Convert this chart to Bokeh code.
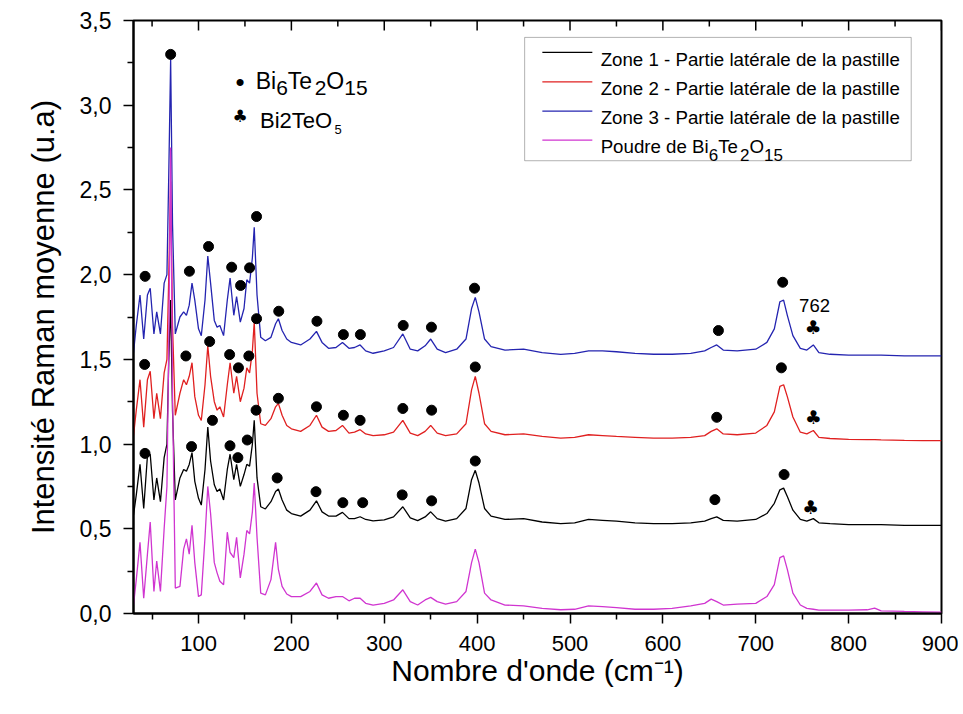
from bokeh.plotting import figure
from bokeh.models import (Range1d, LinearAxis, FixedTicker, CustomJSTickFormatter,
                          Label, BoxAnnotation, Arrow)
from bokeh.core.properties import value
from bokeh.embed import file_html
from bokeh.resources import INLINE

# ---------------- data ----------------
wavenumber = [30, 33, 37, 41, 45, 48, 52, 55, 59, 63,
              66, 68, 70, 72, 75, 80, 84, 87, 90, 93,
              96, 100, 103, 107, 110, 113, 117, 120, 123, 127,
              131, 134, 138, 141, 145, 149, 152, 155, 158, 160,
              163, 167, 172, 178, 183, 186, 190, 195, 200, 210,
              220, 227, 233, 240, 248, 255, 262, 268, 274, 280,
              288, 300, 310, 320, 328, 336, 344, 350, 357, 366,
              378, 388, 394, 398, 402, 408, 415, 430, 450, 470,
              490, 505, 520, 535, 550, 570, 590, 610, 630, 645,
              652, 658, 665, 680, 700, 712, 720, 726, 730, 734,
              740, 748, 755, 762, 768, 780, 800, 820, 828, 835,
              860, 880, 900]

zone1 = [0.58, 0.70, 0.88, 0.62, 0.93, 0.94, 0.67, 0.80, 0.66, 0.92,
         1.00, 1.50, 1.85, 1.20, 0.67, 0.80, 0.85, 0.84, 0.88, 0.95,
         0.78, 0.68, 0.64, 0.85, 1.10, 0.90, 0.76, 0.72, 0.735, 0.67,
         0.85, 0.94, 0.79, 0.88, 0.75, 0.82, 0.88, 0.87, 1.00, 1.14,
         0.80, 0.63, 0.617, 0.66, 0.72, 0.735, 0.67, 0.61, 0.59, 0.575,
         0.61, 0.665, 0.60, 0.575, 0.575, 0.597, 0.56, 0.56, 0.571, 0.555,
         0.547, 0.553, 0.57, 0.63, 0.565, 0.548, 0.57, 0.60, 0.56, 0.545,
         0.56, 0.62, 0.79, 0.845, 0.77, 0.62, 0.575, 0.555, 0.56, 0.54,
         0.53, 0.535, 0.555, 0.55, 0.545, 0.535, 0.53, 0.53, 0.535, 0.545,
         0.56, 0.57, 0.55, 0.545, 0.555, 0.59, 0.65, 0.73, 0.74, 0.69,
         0.61, 0.555, 0.545, 0.56, 0.535, 0.53, 0.525, 0.525, 0.525, 0.524,
         0.52, 0.52, 0.52]

zone2 = [1.05, 1.20, 1.38, 1.10, 1.38, 1.43, 1.15, 1.30, 1.15, 1.42,
         1.50, 2.00, 2.55, 1.70, 1.17, 1.30, 1.38, 1.35, 1.40, 1.48,
         1.28, 1.17, 1.14, 1.35, 1.58, 1.40, 1.25, 1.20, 1.22, 1.16,
         1.35, 1.48, 1.30, 1.40, 1.25, 1.33, 1.45, 1.42, 1.55, 1.72,
         1.30, 1.12, 1.11, 1.15, 1.22, 1.24, 1.17, 1.11, 1.09, 1.075,
         1.11, 1.17, 1.10, 1.075, 1.08, 1.11, 1.065, 1.07, 1.085, 1.06,
         1.05, 1.055, 1.07, 1.14, 1.065, 1.05, 1.075, 1.11, 1.065, 1.05,
         1.06, 1.12, 1.32, 1.40, 1.30, 1.12, 1.075, 1.055, 1.06, 1.045,
         1.035, 1.04, 1.055, 1.05, 1.045, 1.04, 1.035, 1.035, 1.04, 1.05,
         1.075, 1.09, 1.06, 1.055, 1.065, 1.11, 1.19, 1.34, 1.35, 1.28,
         1.16, 1.07, 1.06, 1.08, 1.04, 1.033, 1.028, 1.026, 1.026, 1.025,
         1.022, 1.02, 1.02]

zone3 = [1.54, 1.70, 1.88, 1.62, 1.88, 1.92, 1.65, 1.78, 1.65, 1.95,
         2.00, 2.60, 3.27, 2.30, 1.65, 1.75, 1.78, 1.76, 1.82, 1.95,
         1.85, 1.68, 1.64, 1.85, 2.11, 1.95, 1.73, 1.69, 1.70, 1.64,
         1.85, 1.98, 1.76, 1.87, 1.72, 1.80, 1.97, 1.95, 2.10, 2.28,
         1.88, 1.63, 1.61, 1.63, 1.71, 1.74, 1.67, 1.62, 1.60, 1.585,
         1.62, 1.665, 1.60, 1.565, 1.57, 1.60, 1.565, 1.57, 1.585, 1.55,
         1.536, 1.55, 1.57, 1.65, 1.56, 1.55, 1.58, 1.62, 1.56, 1.54,
         1.56, 1.62, 1.80, 1.866, 1.78, 1.62, 1.575, 1.555, 1.56, 1.54,
         1.53, 1.535, 1.55, 1.55, 1.545, 1.535, 1.53, 1.53, 1.535, 1.55,
         1.57, 1.585, 1.555, 1.55, 1.56, 1.60, 1.68, 1.84, 1.85, 1.76,
         1.64, 1.565, 1.555, 1.585, 1.54, 1.53, 1.525, 1.525, 1.525, 1.525,
         1.52, 1.52, 1.52]

poudre = [0.05, 0.20, 0.42, 0.09, 0.35, 0.54, 0.13, 0.31, 0.13, 0.50,
          0.75, 1.60, 2.75, 1.30, 0.15, 0.16, 0.38, 0.44, 0.35, 0.52,
          0.30, 0.10, 0.11, 0.45, 0.75, 0.59, 0.30, 0.24, 0.19, 0.17,
          0.48, 0.36, 0.33, 0.45, 0.21, 0.35, 0.49, 0.47, 0.60, 0.77,
          0.45, 0.12, 0.11, 0.20, 0.42, 0.26, 0.16, 0.115, 0.10, 0.10,
          0.13, 0.18, 0.11, 0.09, 0.10, 0.10, 0.075, 0.09, 0.09, 0.06,
          0.05, 0.06, 0.08, 0.14, 0.07, 0.05, 0.08, 0.095, 0.07, 0.055,
          0.07, 0.13, 0.30, 0.38, 0.30, 0.12, 0.08, 0.05, 0.045, 0.03,
          0.022, 0.025, 0.045, 0.04, 0.035, 0.025, 0.025, 0.03, 0.045, 0.06,
          0.085, 0.07, 0.05, 0.055, 0.06, 0.10, 0.17, 0.33, 0.34, 0.26,
          0.12, 0.05, 0.03, 0.025, 0.02, 0.02, 0.02, 0.022, 0.032, 0.015,
          0.012, 0.01, 0.008]

# black dots marking Bi6Te2O15 bands
dots_x = [42.5, 70, 90.2, 110.8, 135.7, 145.3, 155, 162.5, 186.4, 227.5, 256, 274.3, 320.4, 350.8, 397.2, 659.8, 729,
          42, 86.4, 112, 133.5, 143, 154.2, 162.5, 186, 227, 256, 274, 320, 351, 398, 658, 727.6,
          42.4, 92.5, 115, 133.9, 142.4, 152.5, 162, 184.7, 226.5, 255.4, 276.8, 319.3, 351, 398, 656, 730.5]
dots_y = [1.99, 3.30, 2.02, 2.166, 2.044, 1.936, 2.04, 2.343, 1.784, 1.725, 1.646, 1.646, 1.70, 1.69, 1.92, 1.67, 1.955,
          1.47, 1.52, 1.605, 1.528, 1.45, 1.52, 1.74, 1.27, 1.22, 1.17, 1.14, 1.21, 1.20, 1.455, 1.158, 1.45,
          0.945, 0.985, 1.14, 0.99, 0.92, 1.024, 1.20, 0.80, 0.719, 0.654, 0.654, 0.70, 0.665, 0.90, 0.672, 0.82]

# clubs marking Bi2TeO5
club_x = [761.6, 762, 759]
club_y = [1.69, 1.162, 0.626]

x_ticks = [100, 200, 300, 400, 500, 600, 700, 800, 900]
x_minor = [50, 150, 250, 350, 450, 550, 650, 750, 850]
y_ticks = [0.0, 0.5, 1.0, 1.5, 2.0, 2.5, 3.0, 3.5]
y_minor = [0.25, 0.75, 1.25, 1.75, 2.25, 2.75, 3.25]

series_names = ["Zone 1 - Partie latérale de la pastille",
                "Zone 2 - Partie latérale de la pastille",
                "Zone 3 - Partie latérale de la pastille",
                "Poudre de Bi"]
colors = ["#000000", "#e02020", "#2424b0", "#d035d0"]

# ---------------- figure ----------------
X0, X1, Y0, Y1 = 30, 900, 0, 3.5
FL, FR, FT, FB = 132.7, 941.0, 19.8, 612.7   # frame edges in the picture (px)
BL, BT = 133, 20                              # canvas borders
FW, FH = FR - FL, FB - FT

def dx(px):
    return X0 + (px - FL) / FW * (X1 - X0)

def dy(py):
    return Y1 * (FB - py) / FH

FONT = "Liberation Sans"
# Arial / Liberation Sans advance widths (per 1000 em) for chained sub-scripted text
AW = {"B": 667, "i": 222, "T": 611, "e": 556, "O": 778, "P": 667, "o": 556, "u": 556,
      "d": 556, "r": 333, " ": 278}
def tw(s, size):
    return sum(AW.get(c, 556) for c in s) / 1000.0 * size

p = figure(width=958, height=706, x_range=Range1d(X0, X1), y_range=Range1d(Y0, Y1),
           output_backend="svg", toolbar_location=None,
           x_axis_type=None, y_axis_type=None,
           min_border_left=BL, min_border_right=17, min_border_top=BT, min_border_bottom=93)
p.outline_line_color = "black"
p.outline_line_width = 2
p.background_fill_color = "white"

fmt = CustomJSTickFormatter(code="return tick.toFixed(1).replace('.', ',');")

bottom = LinearAxis(ticker=FixedTicker(ticks=x_ticks, minor_ticks=x_minor),
                    axis_label="Nombre d'onde (cm\u207b\u00b9)")
left = LinearAxis(ticker=FixedTicker(ticks=y_ticks, minor_ticks=y_minor), formatter=fmt,
                  axis_label="Intensité Raman moyenne (u.a)")

for ax in (bottom, left):
    ax.axis_line_width = 2
    ax.axis_line_color = "black"
    ax.major_tick_line_width = 1.5
    ax.minor_tick_line_width = 1.5
    ax.major_label_text_font = FONT
    ax.major_label_text_color = "black"
    ax.major_tick_out = 10
    ax.major_tick_in = 0
    ax.minor_tick_out = 6
    ax.minor_tick_in = 0
    ax.axis_label_text_font = FONT
    ax.axis_label_text_font_style = "normal"
    ax.axis_label_text_color = "black"

bottom.major_label_text_font_size = "22px"
bottom.major_label_standoff = 12
bottom.axis_label_text_font_size = "30px"
bottom.axis_label_standoff = 0
left.major_label_text_font_size = "23px"
left.major_label_standoff = 12
left.axis_label_text_font_size = "31px"
left.axis_label_standoff = 16

p.add_layout(bottom, "below")
p.add_layout(left, "left")

# inward ticks of the top frame edge
tick_major_len = 10 * (Y1 - Y0) / FH
tick_minor_len = 6 * (Y1 - Y0) / FH
p.segment(x0=x_ticks, y0=[Y1] * len(x_ticks), x1=x_ticks, y1=[Y1 - tick_major_len] * len(x_ticks),
          line_color="black", line_width=1.5)
p.segment(x0=x_minor, y0=[Y1] * len(x_minor), x1=x_minor, y1=[Y1 - tick_minor_len] * len(x_minor),
          line_color="black", line_width=1.5)

# spectra
for ys, c in zip([zone1, zone2, zone3, poudre], colors):
    p.line(wavenumber, ys, line_color=c, line_width=1.3)

# markers
p.scatter(dots_x, dots_y, marker="circle", size=10, fill_color="black", line_color="black")
p.text(club_x, club_y, text=["\u2663"] * len(club_x), text_font=value("DejaVu Sans"),
       text_font_size="19px", text_align="center", text_baseline="middle", text_color="black")

def lab(px, py, txt, size, align="left", base="alphabetic", font=FONT):
    p.add_layout(Label(x=dx(px), y=dy(py), text=txt, text_font=font, text_font_size=size,
                       text_align=align, text_baseline=base, text_color="black"))

lab(814, 305, "762", "18.5px", align="center", base="middle")

def chain(x, base, pieces, big, small, drop):
    # pieces alternate normal / subscript
    for k, s in enumerate(pieces):
        sub = (k % 2 == 1)
        size = small if sub else big
        lab(x, base + (drop if sub else 0), s, "%.1fpx" % size)
        x += tw(s, size)

# phase annotations
lab(239.3, 81, "\u2022", "26px", align="center")
chain(255, 80, ["Bi", "6", "Te", "2", "O", "15"], 23, 21, 7)
lab(239.3, 115, "\u2663", "17px", align="center", base="middle", font="DejaVu Sans")
chain(259.3, 120, ["Bi2TeO", "5"], 22, 13, 9)

# legend (box, swatches, texts)
p.add_layout(BoxAnnotation(left=dx(524), right=dx(910.7), top=dy(36.7), bottom=dy(160),
                           fill_color="white", fill_alpha=1, line_color="black", line_width=1))
row_y = [51.7, 81.2, 110.5, 139.5]
for k, (ry, c, name) in enumerate(zip(row_y, colors, series_names)):
    p.add_layout(Arrow(end=None, start=None, x_start=dx(541.7), y_start=dy(ry), x_end=dx(591.7),
                       y_end=dy(ry), line_color=c, line_width=1.3))
    if k < 3:
        lab(600, ry + 6.6, name, "18.7px")
    else:
        chain(600, ry + 6.6, [name, "6", "Te", "2", "O", "15"], 18.7, 17, 8)

open("out.html", "w").write(file_html(p, INLINE))
